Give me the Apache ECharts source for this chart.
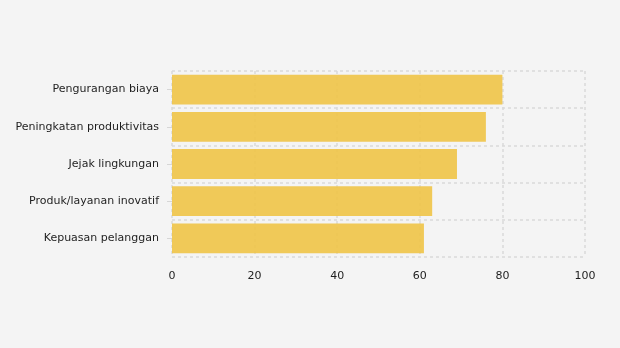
<!DOCTYPE html>
<html>
<head>
<meta charset="utf-8">
<script src="https://cdn.jsdelivr.net/npm/echarts@6/dist/echarts.min.js"></script>
<style>
  html, body { margin: 0; padding: 0; background: #f4f4f4; }
  #chart { width: 620px; height: 348px; }
</style>
</head>
<body>
<div id="chart"></div>
<script>
// Categories listed bottom-to-top (category axis starts at the bottom)
const categories = [
  'Kepuasan pelanggan',
  'Produk/layanan inovatif',
  'Jejak lingkungan',
  'Peningkatan produktivitas',
  'Pengurangan biaya'
];
const values = [61, 63, 69, 76, 80];
const valueTicks = [0, 20, 40, 60, 80, 100];

const gridLine = { show: true, lineStyle: { color: '#d9d9d9', type: [3, 3], width: 1.5 } };

const chart = echarts.init(document.getElementById('chart'), null, { renderer: 'canvas' });
chart.setOption({
  backgroundColor: '#f4f4f4',
  animation: false,
  textStyle: { fontFamily: 'DejaVu Sans, Verdana, sans-serif' },
  grid: { left: 172, right: 35, top: 71, bottom: 91, containLabel: false },
  xAxis: {
    type: 'value',
    min: valueTicks[0],
    max: valueTicks[valueTicks.length - 1],
    interval: valueTicks[1] - valueTicks[0],
    axisLine: { show: false },
    axisTick: { show: false },
    axisLabel: { color: '#1e1e1e', fontSize: 11, margin: 14 },
    splitLine: gridLine
  },
  yAxis: {
    type: 'category',
    data: categories,
    axisLine: { show: false },
    axisTick: { show: true, alignWithLabel: true, length: 5, lineStyle: { color: '#d6d6d6' } },
    axisLabel: { color: '#1e1e1e', fontSize: 11, margin: 13, padding: [3, 0, 0, 0] },
    splitLine: gridLine
  },
  series: [{
    type: 'bar',
    data: values,
    barCategoryGap: '20%',
    itemStyle: { color: '#efc44a', opacity: 0.92 },
    z: 1
  }]
});
</script>
</body>
</html>
